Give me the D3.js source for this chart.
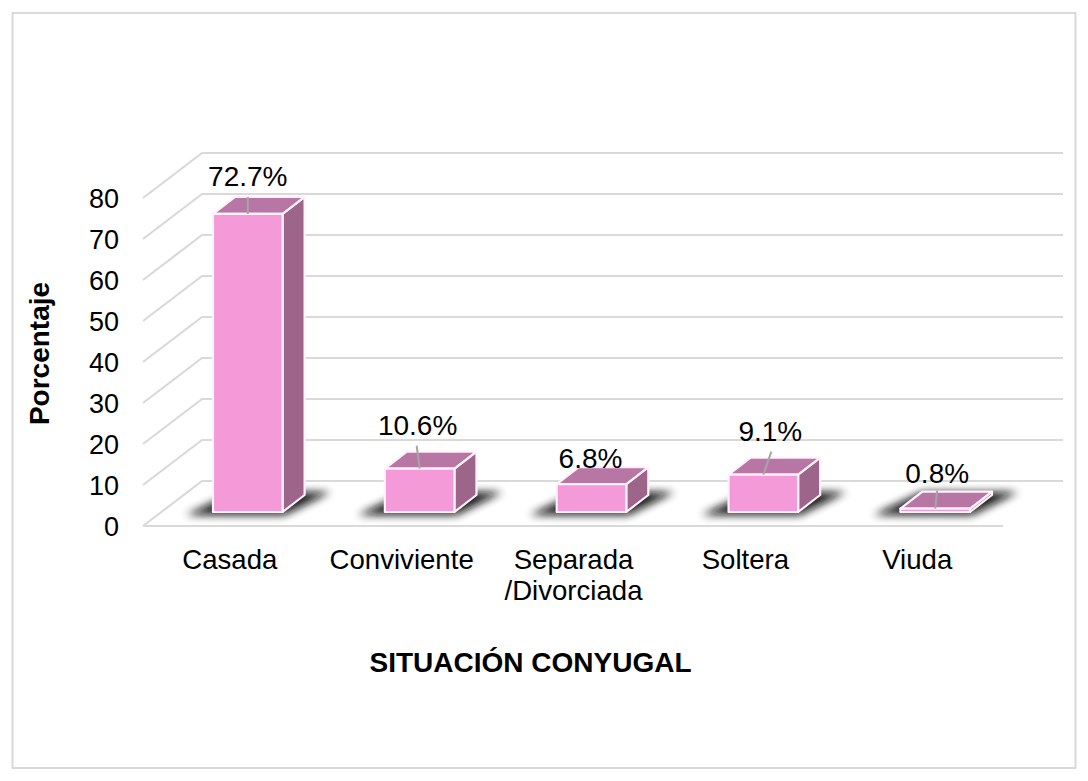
<!DOCTYPE html>
<html><head><meta charset="utf-8">
<script src="https://cdn.jsdelivr.net/npm/d3@7"></script>
<style>
html,body{margin:0;padding:0;background:#fff}
svg{display:block}
text{font-family:"Liberation Sans",Arial,sans-serif;fill:#000}
</style></head><body>
<svg id="c" width="1088" height="781"></svg>
<script>
const categories = ["Casada","Conviviente","Separada\n/Divorciada","Soltera","Viuda"];
const values = [72.7,10.6,6.8,9.1,0.8];
const valueLabels = ["72.7%","10.6%","6.8%","9.1%","0.8%"];
const yTicks = [0,10,20,30,40,50,60,70,80];
const yTitle = "Porcentaje";
const xTitle = "SITUACIÓN CONYUGAL";

const svg = d3.select("#c");
svg.append("rect").attr("x",12.5).attr("y",13).attr("width",1063).attr("height",755)
  .attr("fill","#fff").attr("stroke","#d9d9d9").attr("stroke-width",2);

const defs = svg.append("defs");
defs.append("filter").attr("id","blur").attr("x","-30%").attr("y","-60%").attr("width","160%").attr("height","220%")
  .append("feGaussianBlur").attr("stdDeviation",4.5);

const y = d3.scaleLinear().domain([0,80]).range([481,153]);
const x = d3.scaleBand().domain(categories).range([213,970]).paddingInner(0.595).paddingOuter(0);
const floorDX = 59, floorDY = 45, backRight = 1063;
const depthX = 22, depthY = 17, barShift = 31;

const grid = svg.append("g").attr("stroke","#d9d9d9").attr("stroke-width",2.2).attr("fill","none");
yTicks.forEach(t=>{
  const py = y(t);
  grid.append("path").attr("d",`M143,${py+floorDY}L${143+floorDX},${py}L${backRight},${py}`);
});
grid.append("path").attr("d",`M143,${y(0)+floorDY}L1003,${y(0)+floorDY}`);

const axis = d3.axisLeft(y).tickValues(yTicks).tickSize(0).tickPadding(0);
const ga = svg.append("g").attr("transform",`translate(119,${floorDY+1})`).call(axis);
ga.select(".domain").remove();
ga.selectAll("text").attr("font-size",27).style("font-family",'"Liberation Sans",Arial,sans-serif').attr("fill","#000");

const g = svg.append("g").selectAll("g").data(values).join("g");
g.each(function(v,i){
  const s = d3.select(this);
  const x0 = x(categories[i]), bw = x.bandwidth(), x1 = x0+bw;
  const base = y(0)+barShift, top = y(v)+barShift;
  s.append("path").attr("filter","url(#blur)").attr("fill","#111").attr("opacity",0.95)
   .attr("d",`M${x0-27},${base+3}L${x1+2},${base+3}L${x1+depthX+26},${base-depthY-3}L${x0+depthX},${base-depthY-3}Z`);
  const st = {stroke:"#fff2fb","stroke-width":2.2,"stroke-linejoin":"round"};
  const apply = p=>{Object.entries(st).forEach(([k,val])=>p.attr(k,val));return p;};
  apply(s.append("path").attr("fill","#9c6589")
    .attr("d",`M${x1},${base}L${x1+depthX},${base-depthY}L${x1+depthX},${top-depthY}L${x1},${top}Z`));
  apply(s.append("path").attr("fill","#b876a4")
    .attr("d",`M${x0},${top}L${x1},${top}L${x1+depthX},${top-depthY}L${x0+depthX},${top-depthY}Z`));
  apply(s.append("rect").attr("fill","#f49ad8").attr("x",x0).attr("y",top).attr("width",bw).attr("height",base-top));
});

g.each(function(v,i){
  const s = d3.select(this);
  const cx = x(categories[i])+x.bandwidth()/2, top = y(v)+barShift;
  s.append("line").attr("x1",cx).attr("y1",top).attr("x2",cx+[0,-3,0,8,2][i]).attr("y2",top-[17,23,0,23,18][i])
    .attr("stroke","#a6a6a6").attr("stroke-width",2);
});

g.append("text").attr("text-anchor","middle").attr("font-size",28)
  .attr("x",(v,i)=>x(categories[i])+x.bandwidth()/2+[0,-2,-1,7,2][i])
  .attr("y",(v,i)=>y(v)+barShift-[28,34,16,34,26][i])
  .text((v,i)=>valueLabels[i]);

categories.forEach((c,i)=>{
  const t = svg.append("text").attr("font-size",27.6).attr("text-anchor","middle")
    .attr("y",569).attr("x",x(c)+x.bandwidth()/2-18);
  c.split("\n").forEach((ln,k)=>t.append("tspan").attr("x",t.attr("x")).attr("dy",k?31:0).text(ln));
});

svg.append("text").attr("font-size",28).attr("font-weight","bold").attr("text-anchor","middle")
  .attr("transform","translate(49,353.5) rotate(-90)").text(yTitle);
svg.append("text").attr("font-size",28).attr("font-weight","bold").attr("text-anchor","middle")
  .attr("x",530.5).attr("y",672).text(xTitle);
</script>
</body></html>
